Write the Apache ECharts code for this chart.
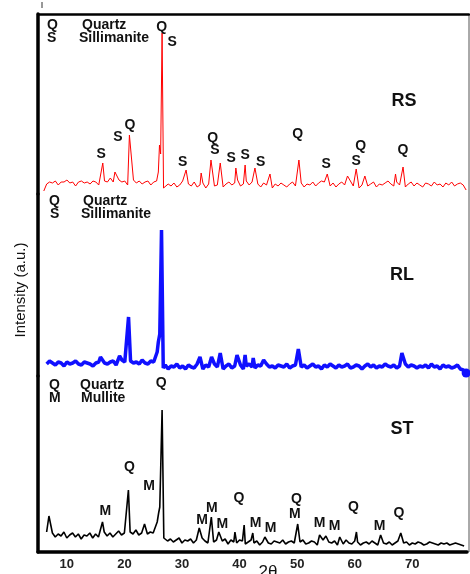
<!DOCTYPE html>
<html><head><meta charset="utf-8">
<script src="https://cdn.jsdelivr.net/npm/echarts@6/dist/echarts.min.js"></script>
<style>html,body{margin:0;padding:0;background:#fff}#c{width:470px;height:574px}</style>
</head><body><div id="c"></div>
<script>
// ---- data (2θ in degrees, intensity in arbitrary units per panel) ----
const xTicks = [10, 20, 30, 40, 50, 60, 70];
const rsStart = 6.0, rlStart = 6.5, stStart = 6.5, step = 0.5;

// RS background (every 0.5°)
const rsBase = [3,10,12,11,13,9,12,12,14,11,12,8,12,13,11,12,10,13,12,9,
 11,13,12,16,12,10,14,12,13,9,12,14,11,13,10,12,13,9,12,13,
 8,9,5,10,8,11,7,9,13,6,
 10,8,12,7,9,11,6,10,12,8,
 9,13,7,10,12,9,11,14,8,10,
 13,9,12,8,10,7,11,9,12,6,
 10,8,11,9,7,10,12,8,9,11,
 7,10,9,12,8,11,13,12,10,8,
 11,7,10,12,9,11,13,8,10,6,
 9,11,8,10,12,7,10,9,11,13,
 10,8,12,9,11,7,10,12,8,11,
 9,7,11,10,8,12,9,10,7,11,
 9,12,8,10,11,9,4];
const rsPeaks = [[16.2,31],[18.3,22],[20.8,59],[25.8,22],[26.0,49],[26.2,40],[26.45,161],[26.7,6],
 [30.6,24],[33.2,21],[34.9,34],[36.5,31],[39.2,26],[40.8,29],[42.5,26],[45.1,20],[50.1,34],
 [55.0,20],[58.5,18],[60.0,25],[61.5,18],[66.8,20],[68.1,27]];

// RL background
const rlBase = [12,15,13,11,14,13,10,14,12, 13,15,12,11,14,13,12,10,13,14,
 16,13,12,14,15,11,13,16,14,12, 15,13,14,12,16,13,12,15,14,13,
 9,8,11,7,10,9,12,8,10,7,
 11,9,8,12,10,7,11,9,8,12,
 9,11,7,10,12,8,10,9,11,7,
 10,12,9,8,11,10,7,12,9,10,
 8,11,10,9,12,8,10,11,7,9,
 11,8,10,12,9,10,7,11,9,12,
 10,8,11,9,10,12,8,9,11,10,
 7,10,12,9,11,8,10,9,12,10,
 9,11,8,10,7,12,9,11,10,8,
 10,9,11,8,12,9,10,7,11,9,
 10,8,9,11,7,6,3];
const rlPeaks = [[15.8,19],[19.1,20],[20.65,59],[25.6,24],[25.8,34],[26.05,42],[26.35,146],[26.65,8],
 [33.0,19],[35.0,19],[36.5,23],[39.4,21],[40.8,21],[42.2,18],[44.0,16],[50.0,27],[67.9,23]];

// ST background
const stBase = [20,17,19,15,18,16,20,14,17, 19,15,18,13,17,16,19,14,18,15,
 17,20,16,19,15,18,21,17,19,16, 20,18,22,17,19,21,18,20,19,22,
 14,12,15,11,13,10,12,14,9,12,
 11,13,9,12,10,14,11,9,13,10,
 12,9,11,13,8,12,10,9,12,11,
 8,10,12,9,11,7,10,12,9,8,
 11,10,9,12,8,10,11,9,7,10,
 12,8,9,11,10,7,9,12,8,10,
 9,11,7,10,8,12,9,8,11,10,
 7,9,10,8,11,9,7,10,9,8,
 10,7,9,11,8,9,10,7,9,8,
 10,9,7,8,10,9,8,7,9,8,
 9,7,8,9,8,7,6];
const stPeaks = [[6.9,36],[16.2,30],[20.7,62],[23.5,28],[25.7,30],[25.95,39],[26.15,45],[26.55,142],[26.85,14],
 [33.0,24],[35.1,35],[36.4,20],[39.2,20],[40.8,27],[42.3,19],[44.4,15],[50.1,28],[53.9,17],
 [55.0,16],[57.4,15],[60.3,20],[64.5,17],[68.0,19]];

// peak annotations [text, 2θ, intensity]
const rsMarks = [['Q',26.4,167],['S',28.2,152],['Q',20.9,69],['S',18.8,57],['S',15.9,40],['S',30.0,32],
 ['Q',35.2,56],['S',35.6,44],['S',38.4,36],['S',40.8,39],['S',43.5,32],['Q',49.9,60],['S',54.8,30],
 ['S',60.0,33],['Q',60.8,48],['Q',68.1,44]];
const stMarks = [['Q',26.4,169],['Q',20.9,85],['M',24.3,66],['M',16.7,41],['M',33.5,32],['M',35.2,44],
 ['M',37.0,28],['Q',39.9,54],['M',42.8,29],['M',45.4,24],['Q',49.9,53],['M',49.6,38],['M',53.9,29],
 ['M',56.5,26],['Q',59.8,45],['M',64.3,26],['Q',67.7,39]];

// ---- build ----
function build(start, base, peaks) {
  const pts = [];
  base.forEach((v, i) => {
    const x = start + i * step;
    if (!peaks.some(p => Math.abs(p[0] - x) < 0.2)) pts.push([x, v]);
  });
  peaks.forEach(p => pts.push([p[0], p[1]]));
  pts.sort((a, b) => a[0] - b[0]);
  return pts;
}
const rsData = build(rsStart, rsBase, rsPeaks);
const rlData = build(rlStart, rlBase, rlPeaks);
const stData = build(stStart, stBase, stPeaks);
const rlLast = rlData[rlData.length - 1];
rlData[rlData.length - 1] = { value: rlLast, symbol: 'circle', symbolSize: 9 };

const FONT = '"Liberation Sans", Arial, sans-serif';
const XMIN = 5, XMAX = 79.5;
const grids = [
  { left: 38, width: 431, top: 14, height: 180 },
  { left: 38, width: 431, top: 194, height: 182 },
  { left: 38, width: 431, top: 376, height: 176 }
];
const yMax = [180, 182, 176];

function xAxis(i) {
  const last = i === 2;
  return {
    type: 'value', gridIndex: i, min: XMIN, max: XMAX, interval: 5,
    position: i === 0 ? 'top' : 'bottom',
    axisLine: { show: i !== 1, onZero: false, lineStyle: { color: '#000', width: last ? 3.5 : 2.5 } },
    axisTick: { show: false }, splitLine: { show: false },
    axisLabel: {
      show: last, margin: 6, color: '#222', fontFamily: FONT, fontWeight: 'bold', fontSize: 13,
      formatter: v => xTicks.indexOf(v) >= 0 ? String(v) : ''
    }
  };
}
function yAxis(i) {
  return {
    type: 'value', gridIndex: i, min: 0, max: yMax[i],
    axisLine: { show: true, onZero: false, lineStyle: { color: '#000', width: 3.5 } },
    axisTick: { show: false }, axisLabel: { show: false }, splitLine: { show: false }
  };
}
function txt(x, y, s, size, extra) {
  return Object.assign({ type: 'text', x: x, y: y, z: 10,
    style: Object.assign({ text: s, fill: '#111', font: 'bold ' + size + 'px ' + FONT,
      textAlign: 'left', textVerticalAlign: 'middle' }, extra || {}) });
}

const staticGraphic = [
  { type: 'line', shape: { x1: 469, y1: 14, x2: 469, y2: 552 }, style: { stroke: '#555', lineWidth: 1 } },
  { type: 'line', shape: { x1: 42, y1: 2, x2: 42, y2: 8 }, style: { stroke: '#333', lineWidth: 1 } },
  txt(47, 25, 'Q', 14), txt(82, 25, 'Quartz', 14),
  txt(47, 38, 'S', 14), txt(79, 38, 'Sillimanite', 14),
  txt(49, 201, 'Q', 14), txt(83, 201, 'Quartz', 14),
  txt(50, 214, 'S', 14), txt(81, 214, 'Sillimanite', 14),
  txt(49, 385, 'Q', 14), txt(80, 385, 'Quartz', 14),
  txt(49, 398, 'M', 14), txt(81, 398, 'Mullite', 14),
  txt(404, 101, 'RS', 18, { textAlign: 'center' }),
  txt(402, 275, 'RL', 18, { textAlign: 'center' }),
  txt(402, 429, 'ST', 18, { textAlign: 'center' }),
  txt(268, 572, '2θ', 17, { textAlign: 'center', font: '17px ' + FONT }),
  { type: 'text', x: 21, y: 290, rotation: Math.PI / 2, z: 10,
    style: { text: 'Intensity (a.u.)', fill: '#111', font: '15px ' + FONT,
      textAlign: 'center', textVerticalAlign: 'middle' } }
];

const chart = echarts.init(document.getElementById('c'));
chart.setOption({
  animation: false,
  backgroundColor: '#fff',
  grid: grids,
  xAxis: [xAxis(0), xAxis(1), xAxis(2)],
  yAxis: [yAxis(0), yAxis(1), yAxis(2)],
  series: [
    { type: 'line', xAxisIndex: 0, yAxisIndex: 0, data: rsData, symbol: 'none', clip: false,
      lineStyle: { color: '#ff0000', width: 1 } },
    { type: 'line', xAxisIndex: 1, yAxisIndex: 1, data: rlData, symbol: 'none', showSymbol: true, clip: false,
      itemStyle: { color: '#1010ff' }, lineStyle: { color: '#1010ff', width: 3.5 } },
    { type: 'line', xAxisIndex: 2, yAxisIndex: 2, data: stData, symbol: 'none', clip: false,
      lineStyle: { color: '#000', width: 1.6 } }
  ],
  graphic: staticGraphic
});

// peak letters placed through the axes' scales
const markGraphic = [];
[[0, rsMarks], [2, stMarks]].forEach(([gi, marks]) => {
  marks.forEach(m => {
    const p = chart.convertToPixel({ gridIndex: gi }, [m[1], m[2]]);
    markGraphic.push(txt(p[0], p[1], m[0], 14, { textAlign: 'center' }));
  });
});
chart.setOption({ graphic: staticGraphic.concat(markGraphic) });
</script></body></html>
